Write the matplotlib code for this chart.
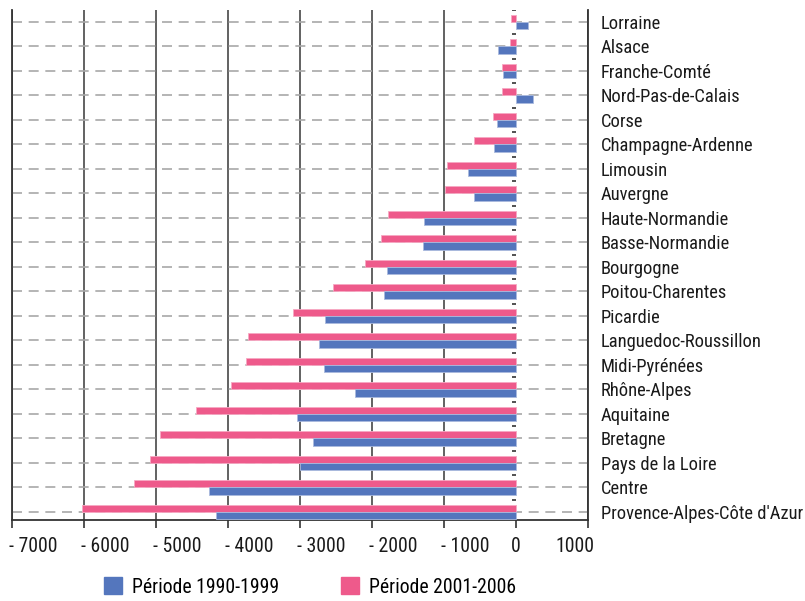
import matplotlib
matplotlib.use("Agg")
import matplotlib.pyplot as plt
import matplotlib.transforms as mtransforms
from matplotlib.patches import Patch
import numpy as np

regions = ["Lorraine", "Alsace", "Franche-Comté", "Nord-Pas-de-Calais", "Corse",
           "Champagne-Ardenne", "Limousin", "Auvergne", "Haute-Normandie",
           "Basse-Normandie", "Bourgogne", "Poitou-Charentes", "Picardie",
           "Languedoc-Roussillon", "Midi-Pyrénées", "Rhône-Alpes", "Aquitaine",
           "Bretagne", "Pays de la Loire", "Centre", "Provence-Alpes-Côte d'Azur"]
p1990_1999 = [165, -250, -180, 235, -270, -300, -670, -590, -1275, -1295, -1795,
              -1830, -2650, -2730, -2670, -2235, -3035, -2815, -3000, -4260, -4160]
p2001_2006 = [-70, -85, -200, -200, -320, -590, -955, -990, -1775, -1880, -2095,
              -2545, -3100, -3720, -3755, -3960, -4450, -4950, -5085, -5300, -6025]
xticks = [-7000, -6000, -5000, -4000, -3000, -2000, -1000, 0, 1000]
xticklabels = ["- 7000", "- 6000", "- 5000", "- 4000", "- 3000", "- 2000", "- 1000", "0", "1000"]
legend_labels = ["Période 1990-1999", "Période 2001-2006"]

FONT = ["Roboto Condensed", "DejaVu Sans"]
plt.rcParams['font.family'] = FONT

blue = "#5476BD"
pink = "#EE5A8B"
fs_cat = 13.3
fs_tick = 14.2
fs_leg = 14.2

fig = plt.figure(figsize=(8.05, 6.01), dpi=100)
ax = fig.add_axes([12/805, 81/601, 576/805, 510/601])

y = np.arange(len(regions))
h = 0.29
ax.barh(y - h/2, p2001_2006, height=h, color=pink, edgecolor="#F7A9C3", linewidth=0.6, zorder=3)
ax.barh(y + h/2, p1990_1999, height=h, color=blue, edgecolor="#A9B9DE", linewidth=0.6, zorder=3)

ax.set_xlim(xticks[0], xticks[-1])
ax.set_ylim(len(regions) - 1 + 0.33, -0.49)

# category labels on the right
ax.yaxis.tick_right()
ax.set_yticks(y)
ax.set_yticklabels(regions, fontsize=fs_cat, color="#1a1a1a")
ax.tick_params(axis="y", length=0, pad=9)

# dashed horizontal lines at category centres
ax.yaxis.grid(True, linestyle=(0, (6, 4)), color="#A8A8A8", linewidth=1.2, zorder=1)

# x axis
ax.set_xticks(xticks)
ax.set_xticklabels(xticklabels, fontsize=fs_tick, color="#1a1a1a")
ax.tick_params(axis="x", length=6, width=1.2, color="#333333", pad=6)
ax.xaxis.grid(True, linestyle="-", color="#555555", linewidth=1.3, zorder=2)
for val, gl in zip(xticks, ax.xaxis.get_gridlines()):
    if val == 0:
        gl.set_visible(False)

# shift x tick labels as in reference
for val, lab in zip(xticks, ax.get_xticklabels()):
    if val < 0:
        dx = 21
    elif val > 0:
        dx = -13
    else:
        dx = 0
    lab.set_transform(lab.get_transform() + mtransforms.ScaledTranslation(dx/100, 0, fig.dpi_scale_trans))

# small separators at zero between categories
bounds = np.arange(len(regions) + 1) - 0.5
ax.hlines(bounds, -55, 0, color="#333333", linewidth=1.2, zorder=4)

for s in ["left", "right", "bottom"]:
    ax.spines[s].set_color("#333333")
    ax.spines[s].set_linewidth(1.3)
ax.spines["top"].set_visible(False)

handles = [Patch(facecolor=blue, edgecolor=blue), Patch(facecolor=pink, edgecolor=pink)]
fig.legend(handles, legend_labels, loc="center", bbox_to_anchor=(310/805, 1 - 587/601),
           ncol=2, frameon=False, fontsize=fs_leg, handlelength=0.92, handleheight=0.92,
           handletextpad=0.5, columnspacing=3.1)

fig.savefig("out.png", dpi=100)
